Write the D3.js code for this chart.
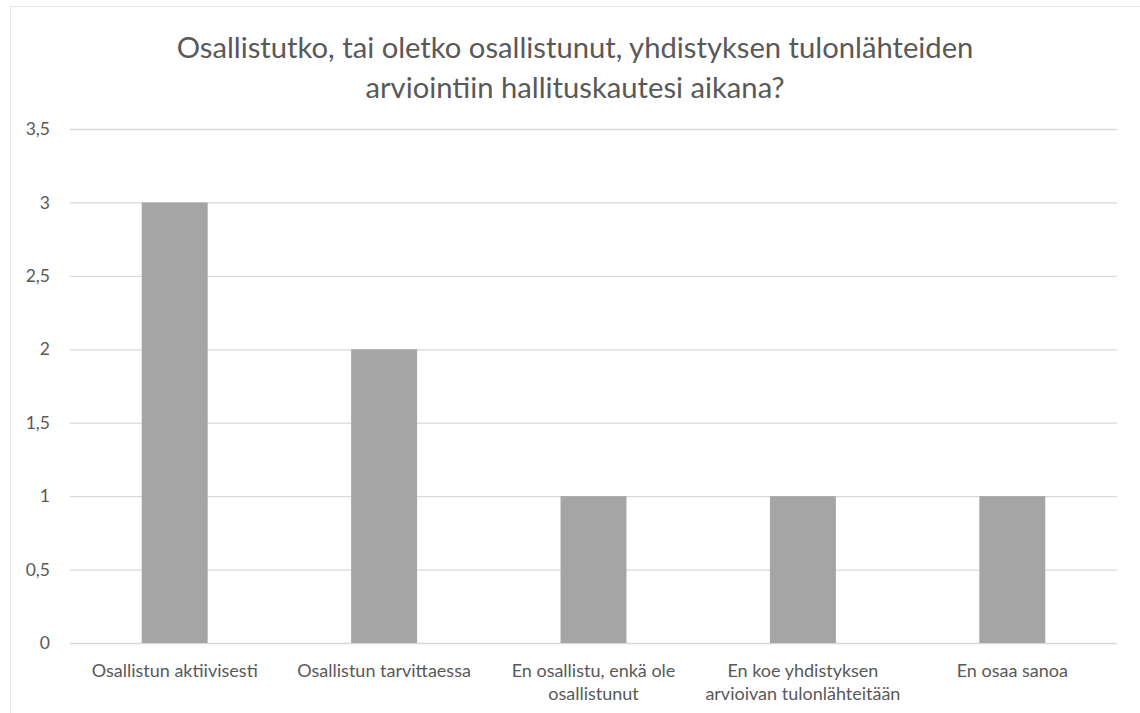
<!DOCTYPE html>
<html><head><meta charset="utf-8">
<script src="https://cdn.jsdelivr.net/npm/d3@7"></script>
<style>body{margin:0;background:#fff;}svg{display:block;font-family:Lato,"Open Sans",sans-serif;}</style>
</head><body>
<script>
const titleLines = ["Osallistutko, tai oletko osallistunut, yhdistyksen tulonlähteiden","arviointiin hallituskautesi aikana?"];
const categories = ["Osallistun aktiivisesti","Osallistun tarvittaessa","En osallistu, enkä ole osallistunut","En koe yhdistyksen arvioivan tulonlähteitään","En osaa sanoa"];
const categoryLines = [["Osallistun aktiivisesti"],["Osallistun tarvittaessa"],["En osallistu, enkä ole","osallistunut"],["En koe yhdistyksen","arvioivan tulonlähteitään"],["En osaa sanoa"]];
const values = [3,2,1,1,1];
const yTicks = [0,0.5,1,1.5,2,2.5,3,3.5];
const yTickLabels = ["0","0,5","1","1,5","2","2,5","3","3,5"];

(function(){
const W=1140,H=713;
const svg=d3.select("body").append("svg").attr("width",W).attr("height",H);
svg.append("rect").attr("x",10.5).attr("y",6.5).attr("width",W).attr("height",H).attr("fill","none").attr("stroke","#e6e6e6");
const pl=70,pr=1117,pt=129,pb=643;
const x=d3.scaleBand().domain(categories).range([pl,pr]).paddingInner(0.685).paddingOuter(0.3425);
const y=d3.scaleLinear().domain([0,3.5]).range([pb,pt]);

svg.append("g").selectAll("line").data(yTicks).join("line")
 .attr("x1",pl).attr("x2",pr).attr("y1",d=>y(d)+0.5).attr("y2",d=>y(d)+0.5)
 .attr("stroke","#d9d9d9").attr("stroke-width",1.3);

svg.append("g").selectAll("rect").data(values).join("rect")
 .attr("x",(d,i)=>x(categories[i])).attr("width",x.bandwidth())
 .attr("y",d=>y(d)).attr("height",d=>y(0)-y(d)).attr("fill","#a5a5a5");

svg.append("g").selectAll("text").data(yTicks).join("text")
 .attr("x",50).attr("y",d=>y(d)).attr("dy","0.35em").attr("text-anchor","end")
 .attr("font-size",17.5).attr("fill","#595959").text((d,i)=>yTickLabels[i]);

const xl=svg.append("g");
categoryLines.forEach((lines,i)=>{
  const cx=x(categories[i])+x.bandwidth()/2;
  lines.forEach((l,j)=>{
    xl.append("text").attr("x",cx).attr("y",677+j*23).attr("text-anchor","middle")
      .attr("font-size",18).attr("fill","#595959").text(l);
  });
});

titleLines.forEach((t,i)=>{
  svg.append("text").attr("x",575).attr("y",58+i*40).attr("text-anchor","middle")
   .attr("font-size",29.2).attr("fill","#595959").text(t);
});
})();
</script>
</body></html>
